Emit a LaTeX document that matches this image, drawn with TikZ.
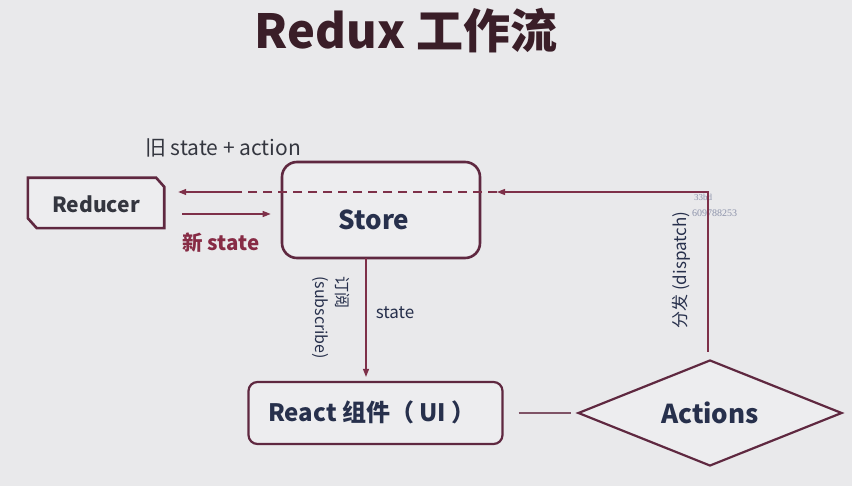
\documentclass[tikz,border=0pt]{standalone}
\usepackage{fontspec}
\setmainfont{Noto Sans CJK SC}
\newfontfamily\wmfont{Liberation Serif}
\usetikzlibrary{arrows.meta,shapes.geometric}
\definecolor{bg}{HTML}{E9E9EB}
\definecolor{boxfill}{HTML}{EDEDEF}
\definecolor{border}{HTML}{5F2840}
\definecolor{arrowc}{HTML}{7E3049}
\definecolor{navy}{HTML}{27304C}
\definecolor{txtgray}{HTML}{34363F}
\definecolor{newred}{HTML}{872B45}
\definecolor{titlec}{HTML}{3A1E28}
\definecolor{wmc}{HTML}{8C92AA}
\tikzset{
  boxline/.style={draw=border, line width=2.6pt, fill=boxfill},
  conn/.style={draw=arrowc, line width=1.3pt},
  tip/.style={-{Triangle[length=8pt,width=6pt]}},
  lbl/.style={inner sep=0pt},
}
\begin{document}
\begin{tikzpicture}[x=1pt,y=-1pt]
\fill[bg] (0,0) rectangle (852,486);
\useasboundingbox (0,0) rectangle (852,486);

% title
\node[lbl, text=titlec, font=\fontsize{47}{52}\selectfont\bfseries] (title) at (406,31) {Redux 工作流};

% Reducer (chamfered box drawn around a named node)
\node[minimum width=136pt, minimum height=50pt, inner sep=0pt] (reducer) at (96,203) {};
\draw[boxline, line join=miter]
  (reducer.north west) -- ([xshift=-8pt]reducer.north east) -- ([yshift=-9pt]reducer.north east)
  -- (reducer.south east) -- ([xshift=9pt]reducer.south west) -- ([yshift=10pt]reducer.south west) -- cycle;
\node[lbl, text=txtgray, font=\fontsize{21}{24}\selectfont\bfseries] (reducertxt) at (96,204) {Reducer};

% Store
\node[boxline, rounded corners=15pt, minimum width=198pt, minimum height=96pt] (store) at (381,210) {};
\node[lbl, text=navy, font=\fontsize{26}{30}\selectfont\bfseries] (storetxt) at (374,220) {Store};

% React
\node[boxline, line width=2.2pt, rounded corners=9pt, minimum width=254pt, minimum height=62pt] (react) at (375.5,413) {};
\node[lbl, text=navy, font=\fontsize{24}{28}\selectfont\bfseries] (reacttxt) at (372,412) {React 组件（ UI ）};

% Actions
\node[boxline, line width=2.2pt, diamond, minimum width=264pt, minimum height=106pt, inner sep=0pt] (actions) at (710,413) {};
\node[lbl, text=navy, font=\fontsize{26}{30}\selectfont\bfseries] (actionstxt) at (710,413) {Actions};

% labels
\node[lbl, text=txtgray, font=\fontsize{21}{24}\selectfont] (oldlbl) at (223,148) {旧 state + action};
\node[lbl, text=newred, font=\fontsize{20.5}{24}\selectfont\bfseries] (newlbl) at (221,243) {新 state};
\node[lbl, text=navy, font=\fontsize{17}{20}\selectfont] (statelbl) at (395,313) {state};
\node[lbl, text=navy, rotate=-90, anchor=west, align=left, font=\fontsize{16}{21}\selectfont] (sublbl) at (331,276) {订阅\\(subscribe)};
\node[lbl, text=navy, rotate=90, font=\fontsize{17}{20}\selectfont] (displbl) at (681,270) {分发 (dispatch)};

% watermark
\node[lbl, text=wmc, anchor=west, font=\wmfont\fontsize{9}{10}\selectfont] (wm1) at (694,197) {33bd};
\node[lbl, text=wmc, anchor=west, font=\wmfont\fontsize{10}{10}\selectfont] (wm2) at (692,213) {609788253};

% connectors
\coordinate (mid) at (240,192);
\coordinate (dend) at (497,192);
\coordinate (dstart) at (708,352);
\coordinate (sa) at (366,258);

\draw[conn, tip] (dstart) |- (dend);
\draw[conn, dashed, dash pattern=on 9pt off 6pt] (dend) -- (mid);
\draw[conn, tip, shorten >=14pt] (mid) -- (reducer.east |- mid);
\draw[conn, tip, shorten <=18pt, shorten >=10pt] (reducer.east |- 0,214) -- (store.west |- 0,214);
\draw[conn, tip, shorten >=4pt] (sa) -- (sa |- react.north);
\draw[conn, draw=border!80, shorten <=15pt, shorten >=6pt] (react.east) -- (actions.west);
\end{tikzpicture}
\end{document}
